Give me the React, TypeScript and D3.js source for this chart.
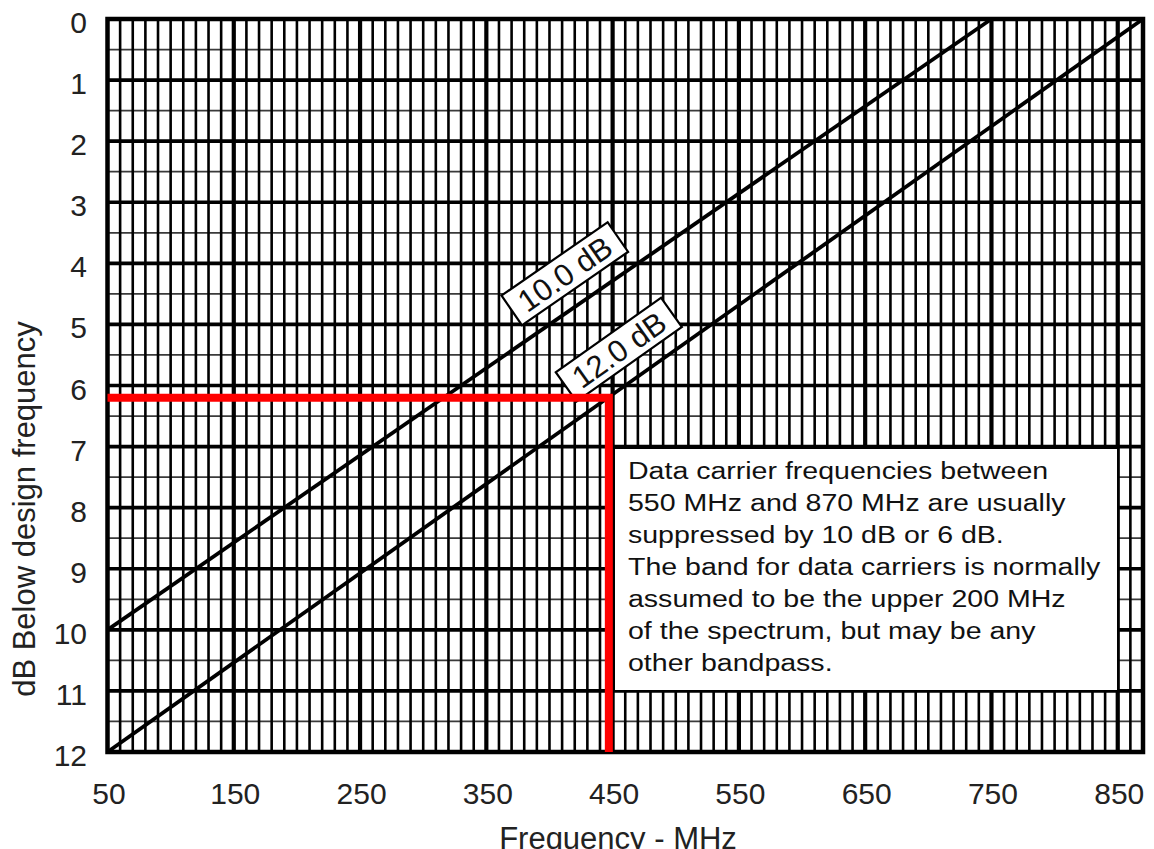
import React from "react";
import * as d3 from "d3";

const xTicks = [50, 150, 250, 350, 450, 550, 650, 750, 850];
const yTicks = [0, 1, 2, 3, 4, 5, 6, 7, 8, 9, 10, 11, 12];
const line10 = [
  { f: 50, db: 10 },
  { f: 750, db: 0 },
];
const line12 = [
  { f: 50, db: 12 },
  { f: 870, db: 0 },
];
const redMarker = [
  { f: 50, db: 6.2 },
  { f: 447, db: 6.2 },
  { f: 447, db: 12 },
];
const lineLabels = [
  { text: "10.0 dB", line: line10, at: 427 },
  { text: "12.0 dB", line: line12, at: 470 },
];
const noteLines = [
  "Data carrier frequencies between",
  "550 MHz and 870 MHz are usually",
  "suppressed by 10 dB or 6 dB.",
  "The band for data carriers is normally",
  "assumed to be the upper 200 MHz",
  "of the spectrum, but may be any",
  "other bandpass.",
];
const xDomain = [50, 870];
const yDomain = [0, 12];

const W = 1154;
const H = 849;
const FONT = "'Liberation Sans', Arial, sans-serif";

export default function App() {
  const x = d3.scaleLinear().domain(xDomain).range([107.5, 1143]);
  const y = d3.scaleLinear().domain(yDomain).range([19, 752]);
  const lineGen = d3
    .line<{ f: number; db: number }>()
    .x((d) => x(d.f))
    .y((d) => y(d.db));

  const minorX = d3.range(60, 870, 10).filter((v) => (v - 50) % 100 !== 0);
  const majorX = d3.range(150, 870, 100);
  const halfY = d3.range(0.5, 12, 1);
  const intY = d3.range(1, 12, 1);

  const dbAt = (ln: { f: number; db: number }[], f: number) => {
    const t = (f - ln[0].f) / (ln[1].f - ln[0].f);
    return ln[0].db + t * (ln[1].db - ln[0].db);
  };

  return (
    <svg
      width={W}
      height={H}
      style={{ position: "absolute", left: 0, top: 0, background: "#fff" }}
      fontFamily={FONT}
    >
      <rect x={0} y={0} width={W} height={H} fill="#fff" />
      {/* half-dB lines */}
      {halfY.map((v) => (
        <line
          key={"h" + v}
          x1={x(50)}
          x2={x(870)}
          y1={y(v)}
          y2={y(v)}
          stroke="#3a3a3a"
          strokeWidth={1.8}
        />
      ))}
      {/* minor verticals */}
      {minorX.map((v) => (
        <line
          key={"v" + v}
          x1={x(v)}
          x2={x(v)}
          y1={y(0)}
          y2={y(12)}
          stroke="#000"
          strokeWidth={2.6}
        />
      ))}
      {/* integer dB lines */}
      {intY.map((v) => (
        <line
          key={"i" + v}
          x1={x(50)}
          x2={x(870)}
          y1={y(v)}
          y2={y(v)}
          stroke="#000"
          strokeWidth={3.6}
        />
      ))}
      {/* major verticals */}
      {majorX.map((v) => (
        <line
          key={"m" + v}
          x1={x(v)}
          x2={x(v)}
          y1={y(0)}
          y2={y(12)}
          stroke="#000"
          strokeWidth={4.2}
        />
      ))}
      {/* frame */}
      <rect
        x={x(50)}
        y={y(0)}
        width={x(870) - x(50)}
        height={y(12) - y(0)}
        fill="none"
        stroke="#000"
        strokeWidth={4.5}
      />
      {/* diagonal lines */}
      <path d={lineGen(line10) || ""} fill="none" stroke="#000" strokeWidth={3.8} />
      <path d={lineGen(line12) || ""} fill="none" stroke="#000" strokeWidth={3.8} />

      {/* line labels */}
      {lineLabels.map((lb) => {
        const p0 = lb.line[0];
        const p1 = lb.line[1];
        const ang =
          (Math.atan2(y(p1.db) - y(p0.db), x(p1.f) - x(p0.f)) * 180) / Math.PI;
        const rad = (ang * Math.PI) / 180;
        const fx = x(lb.at);
        const fy = y(dbAt(lb.line, lb.at));
        const nx = Math.sin(rad);
        const ny = -Math.cos(rad);
        const off = 33;
        const cx = fx + nx * off;
        const cy = fy + ny * off;
        return (
          <g key={lb.text} transform={`translate(${cx},${cy}) rotate(${ang})`}>
            <rect
              x={-64.5}
              y={-18}
              width={129}
              height={36}
              fill="#fff"
              stroke="#000"
              strokeWidth={2.2}
            />
            <text
              x={0}
              y={0}
              dy="0.36em"
              textAnchor="middle"
              fontSize={31}
              fill="#111"
            >
              {lb.text}
            </text>
          </g>
        );
      })}

      {/* red marker */}
      <path
        d={lineGen(redMarker) || ""}
        fill="none"
        stroke="#ff0000"
        strokeWidth={8}
        strokeLinejoin="miter"
      />

      {/* note box */}
      <rect x={614} y={448} width={504} height={243} fill="#fff" stroke="#000" strokeWidth={2} />
      {noteLines.map((t, i) => (
        <text
          key={i}
          transform={`translate(628,${479 + i * 32}) scale(1.165,1)`}
          fontSize={24.5}
          fill="#111"
        >
          {t}
        </text>
      ))}

      {/* x tick labels */}
      {xTicks.map((v) => (
        <text
          key={"xt" + v}
          x={x(v) + 1.5}
          y={804}
          textAnchor="middle"
          fontSize={30}
          fill="#222"
        >
          {v}
        </text>
      ))}
      {/* y tick labels */}
      {yTicks.map((v) => (
        <text
          key={"yt" + v}
          x={87}
          y={y(v) + 14}
          textAnchor="end"
          fontSize={30}
          fill="#222"
        >
          {v}
        </text>
      ))}
      {/* axis titles */}
      <text
        transform="translate(35,509) rotate(-90)"
        textAnchor="middle"
        fontSize={31}
        fill="#222"
      >
        dB Below design frequency
      </text>
      <text x={618} y={849} textAnchor="middle" fontSize={31} fill="#222">
        Frequency - MHz
      </text>
    </svg>
  );
}
